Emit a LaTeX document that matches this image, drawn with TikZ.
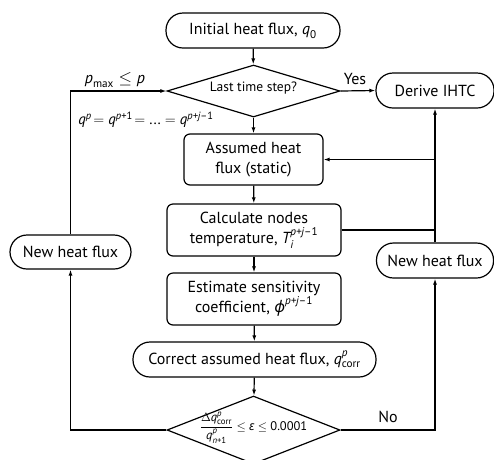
\documentclass[tikz,border=0pt]{standalone}
\usepackage{amsmath}
\usepackage{fontspec}
\setmainfont{PT Sans}
\newfontfamily\grk{Noto Sans}
\usetikzlibrary{shapes.geometric,arrows.meta}
\newcommand{\mitx}[1]{\text{\itshape #1}}
\begin{document}
\begin{tikzpicture}[x=1pt,y=-1pt,
  line width=1.2pt,
  arr/.style={-{Latex[length=6pt,width=4pt]}},
  stad/.style={draw,rectangle,rounded corners=17pt,inner sep=0pt,font=\fontsize{16}{19}\selectfont,minimum height=35pt},
  rbox/.style={draw,rectangle,rounded corners=6pt,inner sep=0pt,align=center,font=\fontsize{16}{20}\selectfont,minimum width=174pt,minimum height=52pt},
  dia/.style={draw,diamond,inner sep=0pt,minimum width=173pt},
  lbl/.style={font=\fontsize{16}{19}\selectfont,inner sep=0pt}
]
\useasboundingbox (0,0) rectangle (494,459);
\node[stad,minimum width=174pt] (init) at (253,30.5) {Initial heat flux, $\mitx{q}_{\text{0}}$};
\node[dia,minimum height=52pt] (d1) at (253.5,91) {\smash{\makebox[0pt]{\fontsize{13.5}{15}\selectfont Last time step?}}};
\node[stad,minimum width=118pt] (derive) at (435,90.5) {Derive IHTC};
\node[rbox,minimum width=139pt,minimum height=51pt] (assumed) at (253.5,159.5) {Assumed heat\\flux (static)};
\node[rbox] (calc) at (254,230) {Calculate nodes\\temperature, $\mitx{T}_{\mitx{i}}^{\mitx{p+j}\text{--1}}$};
\node[rbox] (est) at (254,299) {Estimate sensitivity\\coefficient, $\text{{\grk\itshape ϕ}}^{\mitx{p+j}\text{--1}}$};
\node[stad,minimum width=243pt] (corr) at (254.5,359.5) {Correct assumed heat flux, $\mitx{q}^{\mitx{p}}_{\text{corr}}$};
\node[dia,minimum height=68pt] (d2) at (253.5,430) {\smash{\makebox[0pt]{\fontsize{12.5}{15}\selectfont $\dfrac{\Delta \mitx{q}^{\mitx{p}}_{\text{corr}}}{\mitx{q}^{\mitx{p}}_{\mitx{n}\text{+1}}}\leq \text{{\grk\itshape ε}} \leq \text{0.0001}$}}};
\node[stad,minimum width=121pt,minimum height=34pt] (nhL) at (70.5,252) {New heat flux};
\node[stad,minimum width=117pt] (nhR) at (435,260.5) {New heat flux};

\draw[arr] (init) -- (d1);
\draw[arr] (d1) -- (assumed);
\draw[arr] (assumed) -- (calc);
\draw[arr] (calc) -- (est);
\draw[arr] (est) -- (corr);
\draw[arr] (corr) -- (d2);
\draw[arr] (d1.east) -- (derive.west);
\draw[arr] (d2.west) -| (nhL.south);
\draw[arr] (nhL.north) |- (d1.west);
\draw[arr] (d2.east) -| (nhR.south);
\draw[arr] (nhR.north) -- (derive.south);
\draw[arr] (assumed.east -| nhR.north) -- (assumed.east);
\draw (calc.east) -- (calc.east -| nhR.north);

\node[lbl] (yes) at (355,79) {Yes};
\node[lbl] (no) at (388,417) {No};
\node[lbl] (pmax) at (115,80) {$\mitx{p}_{\text{max}}\leq \mitx{p}$};
\node[lbl,font=\fontsize{15}{18}\selectfont] (qeq) at (146,120) {$\mitx{q}^{\mitx{p}}\! = \mitx{q}^{\mitx{p}\text{+1}}\! = \text{...} = \mitx{q}^{\mitx{p+j}\text{--1}}$};
\end{tikzpicture}
\end{document}
